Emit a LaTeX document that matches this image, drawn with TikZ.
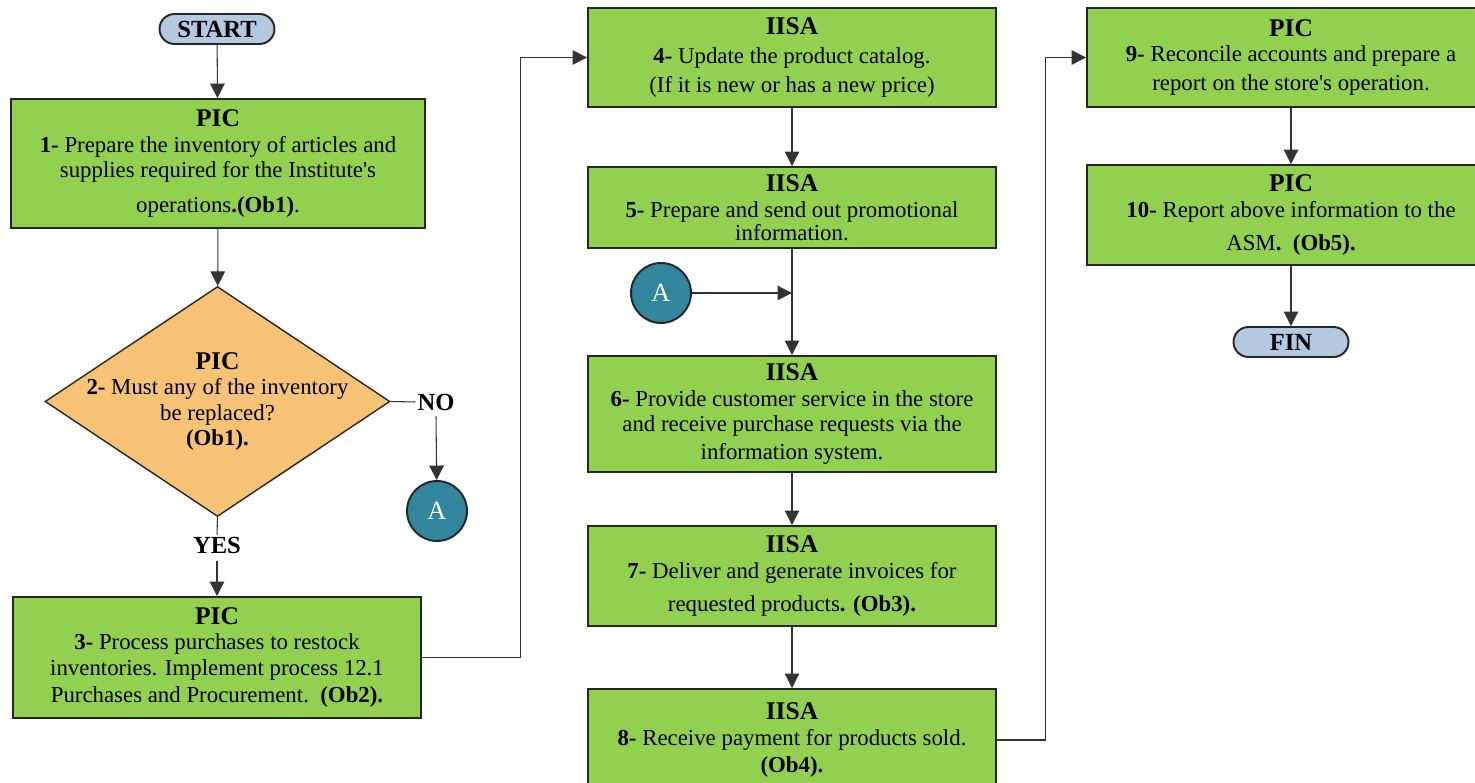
\documentclass[tikz,border=0pt]{standalone}
\usepackage{fontspec}
\setmainfont{Liberation Serif}
\usepackage{tikz}
\usetikzlibrary{arrows.meta,positioning,shapes.geometric,calc}
\definecolor{stepgreen}{HTML}{92D050}
\definecolor{askorange}{HTML}{F5C276}
\definecolor{termblue}{HTML}{B4C8E0}
\definecolor{jumpteal}{HTML}{31859C}
\newcommand{\boxhead}[1]{{\fontsize{14.5}{16}\selectfont\bfseries #1}}

\begin{document}
\begin{tikzpicture}[
  x=0.02cm,y=-0.02cm,
  font=\fontsize{13}{14.6}\selectfont,
  st/.style={draw=black!85,line width=1.1pt,fill=stepgreen,align=center,minimum width=8.16cm,inner sep=1pt},
  dec/.style={draw=black!85,line width=0.8pt,fill=askorange,diamond,aspect=1.5,align=center,minimum width=6.9cm,minimum height=4.58cm,inner sep=-7.4pt},
  term/.style={draw=black!85,line width=1.1pt,fill=termblue,rounded corners=0.3cm,minimum width=2.3cm,minimum height=0.6cm,inner sep=0pt,font=\fontsize{14}{15}\selectfont\bfseries},
  conn/.style={draw=black!85,line width=1.1pt,fill=jumpteal,circle,minimum size=1.2cm,inner sep=0pt,text=white,font=\fontsize{15}{16}\selectfont},
  lab/.style={inner sep=1pt,font=\fontsize{14}{15}\selectfont\bfseries},
  arr/.style={-{Triangle[length=2.9mm,width=2.9mm]},line width=0.6pt,color=black!80}]
\useasboundingbox (0,0) rectangle (1475,783);

% left column
\node[term] (start) at (217,29) {START};
\node[st,minimum width=8.28cm,minimum height=2.58cm] (s1) at (218,163.5) {\boxhead{PIC}\\
  \textbf{1-} Prepare the inventory of articles and\\
  supplies required for the Institute\textquotesingle s\\[5pt]
  operations\textbf{.(Ob1)}.};
\node[dec] (s2) at (217.5,401.5) {\boxhead{PIC}\\
  \textbf{2-} Must any of the inventory\\
  be replaced?\\
  \textbf{(Ob1).}};
\node[lab] (no) at (436,402) {NO};
\node[conn] (ja) at (437,511) {A};
\node[lab] (yes) at (217,545) {YES};
\node[st,minimum height=2.42cm] (s3) at (217,657.5) {\boxhead{PIC}\\
  \textbf{3-} Process purchases to restock\\
  inventories. Implement process 12.1\\[1pt]
  Purchases and Procurement.\ \ \textbf{(Ob2).}};

% middle column
\node[st,minimum height=1.98cm] (s4) at (792,57.5) {\boxhead{IISA}\\[2pt]
  \textbf{4-} Update the product catalog.\\[2pt]
  (If it is new or has a new price)};
\node[st,minimum height=1.62cm] (s5) at (792,207.5) {\boxhead{IISA}\\
  \textbf{5-} Prepare and send out promotional\\[-1.5pt]
  information.};
\node[conn] (jb) at (661,293) {A};
\node[st,minimum height=2.32cm] (s6) at (792,414) {\boxhead{IISA}\\
  \textbf{6-} Provide customer service in the store\\
  and receive purchase requests via the\\[1pt]
  information system.};
\node[st,minimum height=2cm] (s7) at (792,576) {\boxhead{IISA}\\
  \textbf{7-} Deliver and generate invoices for\\[4pt]
  requested products\textbf{. (Ob3).}};
\node[st,minimum height=2.04cm] (s8) at (792,740) {\boxhead{IISA}\\
  \textbf{8-} Receive payment for products sold.\\[1pt]
  \textbf{(Ob4).}};

% right column
\node[st,minimum height=1.98cm] (s9) at (1291,57.5) {\boxhead{PIC}\\
  \textbf{9-} Reconcile accounts and prepare a\\[2pt]
  report on the store\textquotesingle s operation.};
\node[st,minimum height=2cm] (s10) at (1291,215) {\boxhead{PIC}\\
  \textbf{10-} Report above information to the\\[4pt]
  ASM\textbf{.\ \ (Ob5).}};
\node[term] (fin) at (1291,342) {FIN};

% connectors
\draw[arr] (start) -- (s1);
\draw[arr] (s1) -- (s2);
\draw[line width=0.6pt,color=black!80] (s2.east) -- (no.west);
\draw[arr] (no.south) ++(0,4) -- (ja);
\draw[line width=0.6pt,color=black!80] (s2.south) -- (yes.north);
\draw[arr] (yes.south) ++(0,6) -- (s3);
\draw[arr] (s3.east) -- ++(99,0) |- (s4.west);
\draw[arr] (s4) -- (s5);
\draw[arr] (s5) -- (s6);
\draw[arr] (jb) -- (jb -| s5.south);
\draw[arr] (s6) -- (s7);
\draw[arr] (s7) -- (s8);
\draw[arr] (s8.east) -- ++(49,0) |- (s9.west);
\draw[arr] (s9) -- (s10);
\draw[arr] (s10) -- (fin);
\end{tikzpicture}
\end{document}
